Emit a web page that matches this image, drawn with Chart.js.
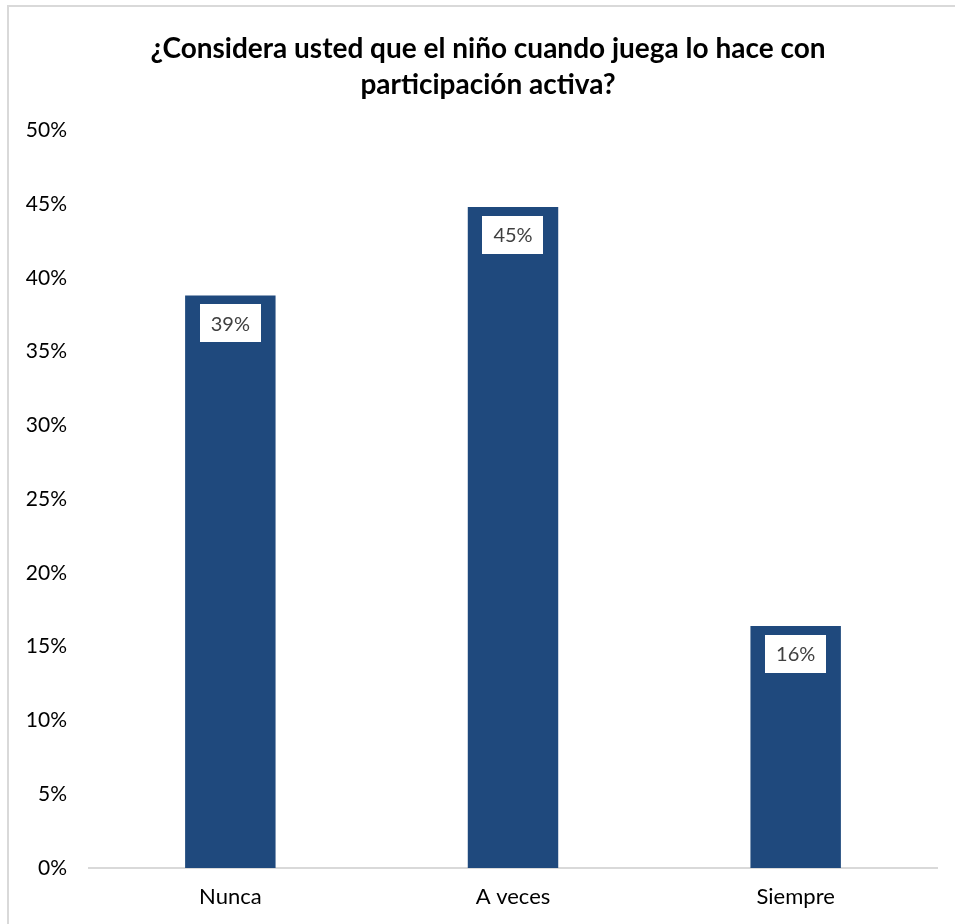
<!DOCTYPE html>
<html>
<head>
<meta charset="utf-8">
<script src="https://cdn.jsdelivr.net/npm/chart.js@4/dist/chart.umd.min.js"></script>
<style>
  html, body { margin: 0; padding: 0; background: #ffffff; }
  #wrap { position: relative; width: 955px; height: 924px; }
  #frame { position: absolute; left: 7px; top: 5px; width: 960px; height: 930px;
           border-left: 2px solid #d9d9d9; border-top: 2px solid #d9d9d9; box-sizing: border-box; }
  canvas { position: absolute; left: 0; top: 0; }
</style>
</head>
<body>
<div id="wrap">
  <div id="frame"></div>
  <canvas id="c" width="955" height="924"></canvas>
</div>
<script>
const titleLines = ["¿Considera usted que el niño cuando juega lo hace con", "participación activa?"];
const categories = ["Nunca", "A veces", "Siempre"];
const values = [38.8, 44.8, 16.4];
const labels = ["39%", "45%", "16%"];
const yTicks = [0, 5, 10, 15, 20, 25, 30, 35, 40, 45, 50];

const FONT = "Lato, 'Open Sans', sans-serif";
const TITLE_CENTER_X = 488;

const boxLabels = {
  id: 'boxLabels',
  afterDatasetsDraw(chart) {
    const ctx = chart.ctx;
    const meta = chart.getDatasetMeta(0);
    ctx.save();
    ctx.font = "20px " + FONT;
    meta.data.forEach((bar, i) => {
      const txt = labels[i];
      const w = ctx.measureText(txt).width + 22;
      const h = 38;
      const top = bar.y + 9;
      ctx.fillStyle = "#ffffff";
      ctx.fillRect(Math.round(bar.x - w / 2), Math.round(top), Math.round(w), h);
      ctx.fillStyle = "#404040";
      ctx.textAlign = "center";
      ctx.textBaseline = "middle";
      ctx.fillText(txt, bar.x, top + h / 2 + 1);
    });
    ctx.restore();
  }
};

// Draws the title text, centred over the whole chart frame, inside the box reserved by the title plugin
const titleText = {
  id: 'titleText',
  afterDraw(chart) {
    const tb = chart.titleBlock;
    if (!tb) return;
    const ctx = chart.ctx;
    const lh = 36;
    ctx.save();
    ctx.font = "bold 28px " + FONT;
    ctx.fillStyle = "#000000";
    ctx.textAlign = "center";
    ctx.textBaseline = "middle";
    titleLines.forEach((line, i) => {
      ctx.fillText(line, TITLE_CENTER_X, tb.top + 31 + lh / 2 + i * lh);
    });
    ctx.restore();
  }
};

new Chart(document.getElementById('c'), {
  type: 'bar',
  data: {
    labels: categories,
    datasets: [{
      data: values,
      backgroundColor: "#1F497D",
      borderWidth: 0,
      barPercentage: 0.32,
      categoryPercentage: 1.0
    }]
  },
  options: {
    responsive: false,
    animation: false,
    devicePixelRatio: 1,
    layout: { padding: { left: 0, right: 18, top: 0, bottom: 0 } },
    plugins: {
      legend: { display: false },
      tooltip: { enabled: false },
      title: {
        display: true,
        text: titleLines,
        color: "rgba(0,0,0,0)",
        font: { family: FONT, size: 28, weight: 'bold', lineHeight: 1.29 },
        padding: { top: 32, bottom: 26 }
      }
    },
    scales: {
      x: {
        afterFit(scale) { scale.height = 56; },
        grid: { display: false },
        border: { display: true, color: "#d9d9d9", width: 2 },
        ticks: { color: "#000000", font: { family: FONT, size: 22 }, padding: 8 }
      },
      y: {
        min: 0, max: 50,
        afterFit(scale) { scale.width = 89; },
        afterBuildTicks(scale) { scale.ticks = yTicks.map(v => ({ value: v })); },
        grid: { display: false },
        border: { display: false },
        ticks: {
          color: "#000000",
          font: { family: FONT, size: 21 },
          padding: 14,
          callback: v => v + "%"
        }
      }
    }
  },
  plugins: [boxLabels, titleText]
});
</script>
</body>
</html>
